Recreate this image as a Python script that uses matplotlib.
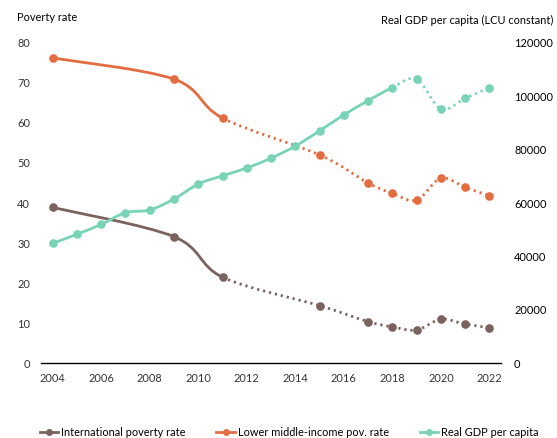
import numpy as np
import matplotlib.pyplot as plt
from matplotlib.path import Path
from matplotlib.patches import PathPatch
from matplotlib.lines import Line2D

plt.rcParams['font.family'] = ['Lato', 'DejaVu Sans']

# Data
pov_years = [2004, 2009, 2011, 2015, 2017, 2018, 2019, 2020, 2021, 2022]
intl_pov = [38.9, 31.6, 21.5, 14.4, 10.4, 9.1, 8.3, 11.0, 9.8, 8.9]
lmic_pov = [76.2, 70.9, 61.2, 52.0, 45.0, 42.4, 40.7, 46.2, 43.9, 41.8]

gdp_years = list(range(2004, 2023))
gdp = [44900, 48300, 52000, 56400, 57400, 61500, 67100, 70200, 73100, 76800,
       81300, 87000, 93000, 98300, 103200, 106400, 95200, 99200, 103200]

col_intl = '#7A625E'
col_lmic = '#E46C41'
col_gdp = '#79D3B6'
fs = 7.9


def smooth_path(x, y, start, stop):
    """Excel-like smoothed line through the points, as cubic bezier segments."""
    pts = np.column_stack([x, y]).astype(float)
    n = len(pts)
    verts = [pts[start]]
    codes = [Path.MOVETO]
    for i in range(start, stop):
        p0 = pts[max(i - 1, 0)]
        p1 = pts[i]
        p2 = pts[i + 1]
        p3 = pts[min(i + 2, n - 1)]
        c1 = p1 + (p2 - p0) / 6.0
        c2 = p2 - (p3 - p1) / 6.0
        verts += [c1, c2, p2]
        codes += [Path.CURVE4] * 3
    return Path(verts, codes)


def draw_series(ax, x, y, split, color):
    solid = smooth_path(x, y, 0, split)
    dotted = smooth_path(x, y, split, len(x) - 1)
    ax.add_patch(PathPatch(solid, facecolor='none', edgecolor=color,
                           linewidth=2, capstyle='round', zorder=3))
    ax.add_patch(PathPatch(dotted, facecolor='none', edgecolor=color,
                           linewidth=2, linestyle=(0, (0.8, 1.4)), zorder=3))
    ax.plot(x, y, linestyle='none', marker='o', markersize=5.2,
            color=color, zorder=4)


fig = plt.figure(figsize=(5.57, 4.38), dpi=100)
ax = fig.add_axes([0.0741, 0.1705, 0.8254, 0.732])
ax2 = ax.twinx()

draw_series(ax, pov_years, intl_pov, 2, col_intl)
draw_series(ax, pov_years, lmic_pov, 2, col_lmic)
draw_series(ax2, gdp_years, gdp, 14, col_gdp)

ax.set_xlim(2003.53, 2022.48)
ax.set_ylim(0, 80)
ax2.set_ylim(0, 120000)
ax.set_xticks(range(2004, 2023, 2))
ax.set_yticks(range(0, 81, 10))
ax2.set_yticks(range(0, 120001, 20000))

for a in (ax, ax2):
    for s in ('top', 'left', 'right', 'bottom'):
        a.spines[s].set_visible(False)
ax.spines['bottom'].set_visible(True)
ax.spines['bottom'].set_color('black')
ax.spines['bottom'].set_linewidth(1)

ax.tick_params(axis='x', length=0, pad=7, labelsize=fs, colors='#333333')
ax.tick_params(axis='y', length=0, pad=8, labelsize=fs, colors='#333333')
ax2.tick_params(axis='y', length=0, pad=9.4, labelsize=fs, colors='black')

fig.text(16.7 / 557, 1 - 17.3 / 438, 'Poverty rate', ha='left', va='center',
         fontsize=fs, color='black')
fig.text(553 / 557, 1 - 20.7 / 438, 'Real GDP per capita (LCU constant)',
         ha='right', va='center', fontsize=fs, color='black')

handles = [
    Line2D([], [], color=col_intl, lw=2, marker='o', markersize=4),
    Line2D([], [], color=col_lmic, lw=2, marker='o', markersize=4),
    Line2D([], [], color=col_gdp, lw=2, marker='o', markersize=4),
]
labels = ['International poverty rate', 'Lower middle-income pov. rate',
          'Real GDP per capita']
fig.legend(handles, labels, loc='center', bbox_to_anchor=(0.519, 1 - 432 / 438),
           ncol=3, frameon=False, fontsize=fs, handlelength=1.7,
           handletextpad=0.25, columnspacing=2.8, borderpad=0)

fig.savefig('out.png', dpi=100)
